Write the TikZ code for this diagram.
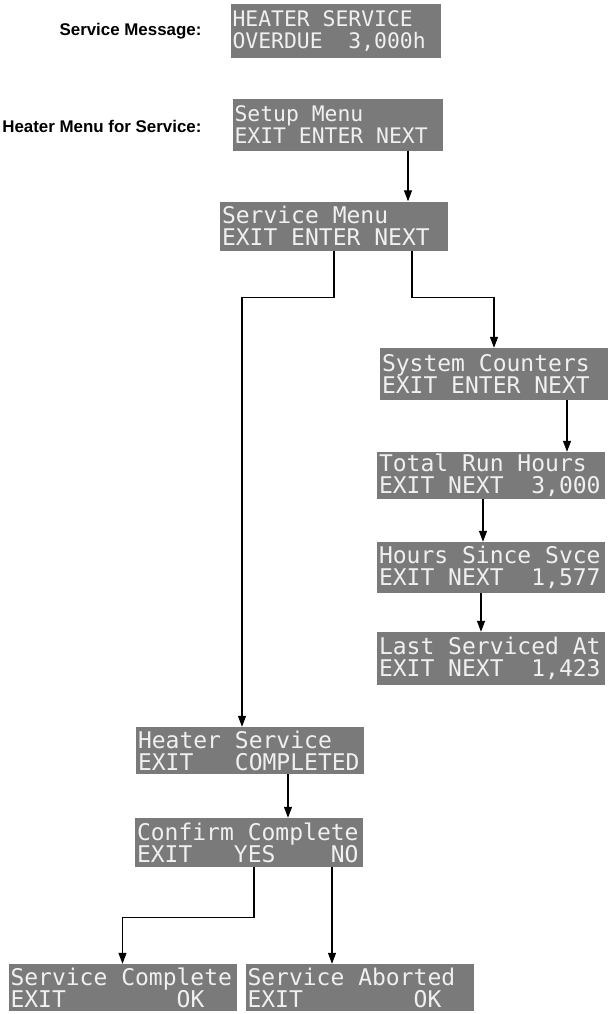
\documentclass[tikz,border=0pt]{standalone}
\usepackage{fontspec}
\setmainfont{Liberation Sans}
\newfontfamily\lcdfont{DejaVu Sans Mono}
\usetikzlibrary{arrows.meta}
\definecolor{lcdgray}{HTML}{7A7A7A}
\definecolor{lcdtext}{HTML}{F0F0F0}
% n blank character cells of the display
\newcommand{\lgap}[1]{\hspace*{\dimexpr 0.602em*#1\relax}}

\begin{document}
\begin{tikzpicture}[
  x=1pt, y=-1pt,
  arr/.style={-{Triangle[length=11pt, width=8pt]}, black, line width=1.1pt},
  lcd/.style={fill=lcdgray, text=lcdtext, text width=224pt,
              minimum height=49pt, inner xsep=2pt, inner ysep=1pt, align=left,
              font=\lcdfont\fontsize{23}{22}\selectfont},
  lcdsm/.style={lcd, text width=207pt, inner xsep=1.5pt, minimum height=51pt,
                font=\lcdfont\fontsize{21.4}{22}\selectfont},
  lbl/.style={anchor=east, font=\bfseries\fontsize{16.9}{19}\selectfont},
]
\useasboundingbox (0,0) rectangle (608,1014);

%% ── headers ──────────────────────────────────────────────────────
\node[lbl] (msglbl)  at (205,31)  {Service Message:};
\node[lbl] (menulbl) at (205,126) {Heater Menu for Service:};

%% ═══ TOP: message and setup menu ═════════════════════════════════
\node[lcdsm, minimum height=54pt] (msg) at (336,31)
  {HEATER\lgap{1}SERVICE\\OVERDUE\lgap{2}3,000h};
\node[lcdsm] (setup) at (338,125)
  {Setup\lgap{1}Menu\\EXIT\lgap{1}ENTER\lgap{1}NEXT};

\node[lcd] (svcmenu) at (334,226)
  {Service\lgap{1}Menu\\EXIT\lgap{1}ENTER\lgap{1}NEXT};

\draw[arr] ([xshift=70pt]setup.south) -- ([xshift=70pt]setup.south |- svcmenu.north);

%% ═══ RIGHT: system counters ══════════════════════════════════════
\node[lcd, minimum height=52pt] (counters) at (494,374)
  {System\lgap{1}Counters\\EXIT\lgap{1}ENTER\lgap{1}NEXT};
\node[lcd, minimum height=47pt] (runhrs) at (491,475.5)
  {Total\lgap{1}Run\lgap{1}Hours\\EXIT\lgap{1}NEXT\lgap{2}3,000};
\node[lcd, minimum height=51pt] (sincehrs) at (491,567.5)
  {Hours\lgap{1}Since\lgap{1}Svce\\EXIT\lgap{1}NEXT\lgap{2}1,577};
\node[lcd, minimum height=53pt] (lastsvc) at (491,658.5)
  {Last\lgap{1}Serviced\lgap{1}At\\EXIT\lgap{1}NEXT\lgap{2}1,423};

\draw[arr] ([xshift=78pt]svcmenu.south) -- ++(0,47) -| (counters.north);
\draw[arr] ([xshift=73pt]counters.south) -- ([xshift=73pt]counters.south |- runhrs.north);
\draw[arr] ([xshift=-8pt]runhrs.south) -- ([xshift=-8pt]runhrs.south |- sincehrs.north);
\draw[arr] ([xshift=-10pt]sincehrs.south) -- ([xshift=-10pt]sincehrs.south |- lastsvc.north);

%% ═══ LEFT: heater service ════════════════════════════════════════
\node[lcd, minimum height=47pt] (heater) at (250,750.5)
  {Heater\lgap{1}Service\\EXIT\lgap{3}COMPLETED};
\node[lcd] (confirm) at (249,842.5)
  {Confirm\lgap{1}Complete\\EXIT\lgap{3}YES\lgap{4}NO};

\draw[arr] (svcmenu.south) -- ++(0,47) -| ([xshift=-8pt]heater.north);
\draw[arr] ([xshift=38pt]heater.south) -- ([xshift=38pt]heater.south |- confirm.north);

% results
\node[lcd, minimum height=47pt] (complete) at (122.5,987.5)
  {Service\lgap{1}Complete\\EXIT\lgap{8}OK};
\node[lcd, minimum height=47pt] (aborted) at (359.5,987.5)
  {Service\lgap{1}Aborted\\EXIT\lgap{8}OK};

\draw[arr] ([xshift=5pt]confirm.south) -- ++(0,50) -| (complete.north);
\draw[arr] ([xshift=83pt]confirm.south) -- ([xshift=83pt]confirm.south |- aborted.north);

\end{tikzpicture}
\end{document}
